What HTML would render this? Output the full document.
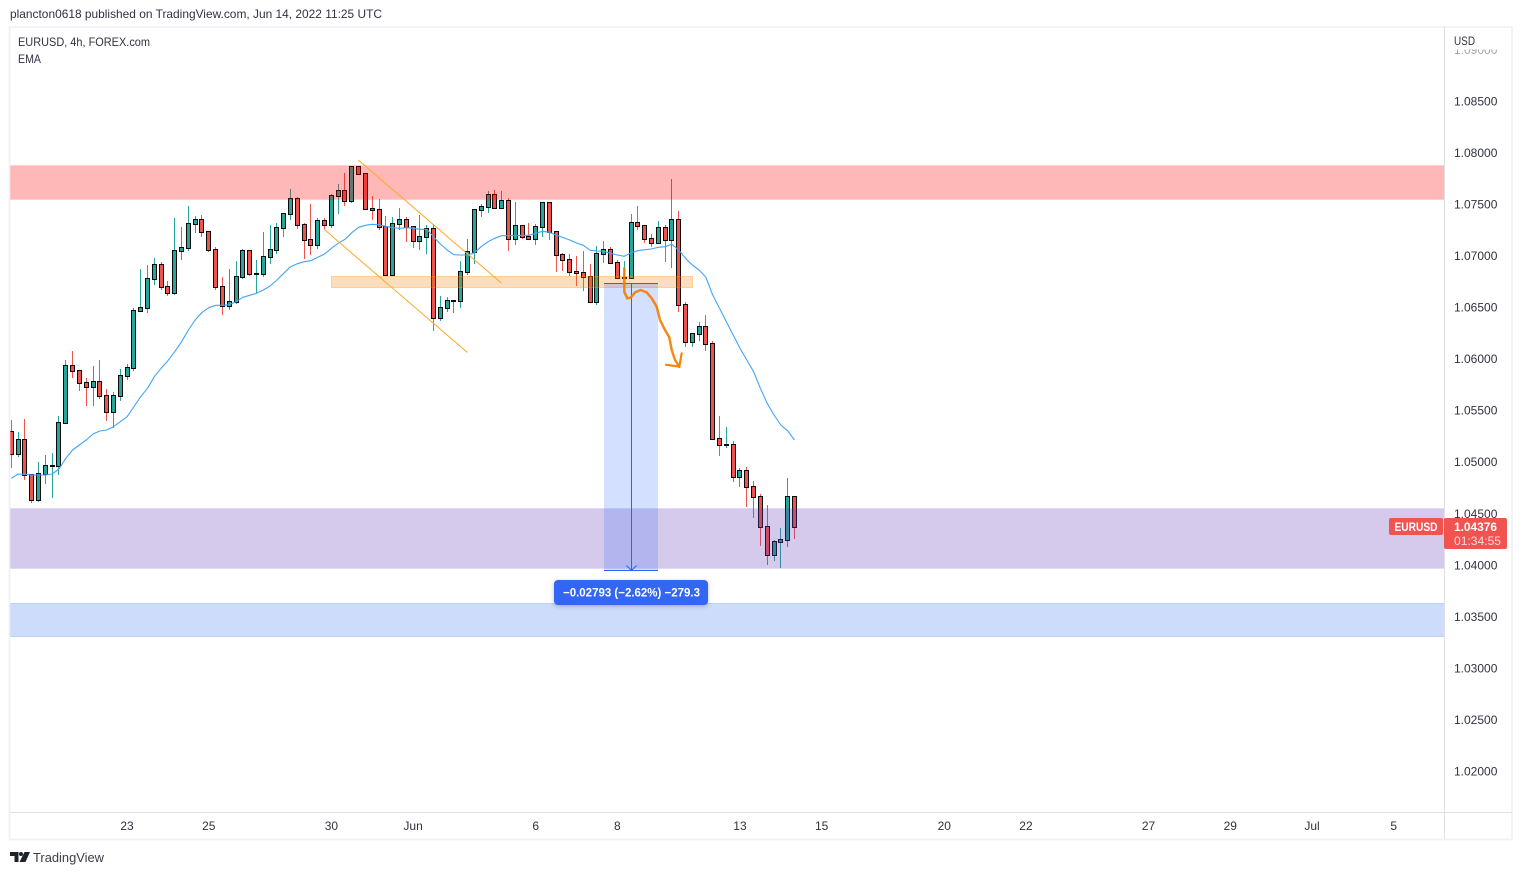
<!DOCTYPE html>
<html lang="en">
<head>
<meta charset="utf-8">
<title>EURUSD 4h chart</title>
<style>
html,body{margin:0;padding:0;background:#fff;width:1522px;height:875px;overflow:hidden}
svg{display:block;font-family:"Liberation Sans",Arial,sans-serif}
text{fill:#2f3241;font-size:12px}
</style>
</head>
<body>
<svg id="chart" xmlns="http://www.w3.org/2000/svg" width="1522" height="875" viewBox="0 0 1522 875">
  <defs>
    <clipPath id="plotClip"><rect x="10" y="28" width="1434" height="784"/></clipPath>
  </defs>
  <rect x="0" y="0" width="1522" height="875" fill="#ffffff"/>
  <text x="10" y="18" style="font-size:12px" textLength="372" lengthAdjust="spacingAndGlyphs">plancton0618 published on TradingView.com, Jun 14, 2022 11:25 UTC</text>
  <g id="priceGrid"></g>
  <rect x="1446" y="29" width="65" height="20.5" fill="#ffffff"/>
  <rect x="1446" y="49.5" width="65" height="7" fill="#ffffff" fill-opacity="0.55"/>
  <g id="candles"></g>
  <path id="ema" fill="none" stroke="#42a5f5" stroke-width="1.1" stroke-linejoin="round"/>
  <g id="drawings"></g>
  <g id="timeAxis"></g>

  <rect x="9.5" y="27" width="1502.5" height="812.5" fill="none" stroke="#eff0f5" stroke-width="1.6"/>
  <line x1="1444.5" y1="27" x2="1444.5" y2="839" stroke="#dfe1e6"/>
  <line x1="10" y1="812.5" x2="1512" y2="812.5" stroke="#dfe1e6"/>

  <text x="18" y="46" textLength="132" lengthAdjust="spacingAndGlyphs">EURUSD, 4h, FOREX.com</text>
  <text x="18" y="63" textLength="23" lengthAdjust="spacingAndGlyphs">EMA</text>
  <text x="1454" y="45" textLength="21" lengthAdjust="spacingAndGlyphs">USD</text>

  <rect x="1389" y="518" width="54" height="17" rx="2" fill="#f05350"/>
  <text x="1416" y="531" text-anchor="middle" style="fill:#fff;font-weight:bold;font-size:11.5px" textLength="43" lengthAdjust="spacingAndGlyphs">EURUSD</text>
  <rect x="1444" y="518" width="63" height="31" rx="2" fill="#f05350"/>
  <text x="1454" y="531" style="fill:#fff;font-weight:bold" textLength="43" lengthAdjust="spacingAndGlyphs">1.04376</text>
  <text x="1454" y="545" style="fill:#fbdcdc" textLength="47" lengthAdjust="spacingAndGlyphs">01:34:55</text>

  <g>
    <polygon points="10,852 18.5,852 18.5,862 14.5,862 14.5,856 10,856" fill="#1e222d"/>
    <circle cx="21" cy="854" r="2" fill="#1e222d"/>
    <polygon points="24.5,852 30,852 25.5,862 19.5,862" fill="#1e222d"/>
    <text x="33" y="862" style="font-size:13px;fill:#3a3d48" textLength="71" lengthAdjust="spacingAndGlyphs">TradingView</text>
  </g>
</svg>
<script>
const opens=[1.05290,1.05077,1.05213,1.04873,1.04630,1.04883,1.04960,1.04963,1.05378,1.05931,1.05882,1.05766,1.05733,1.05775,1.05640,1.05484,1.05640,1.05834,1.05911,1.06464,1.06493,1.06775,1.06910,1.06697,1.06639,1.07046,1.07075,1.07308,1.07347,1.07231,1.07056,1.06697,1.06513,1.06552,1.06794,1.07046,1.06823,1.06826,1.06988,1.07056,1.07269,1.07405,1.07551,1.07299,1.07153,1.07105,1.07337,1.07299,1.07580,1.07628,1.07531,1.07861,1.07793,1.07454,1.07451,1.07279,1.06813,1.07308,1.07347,1.07279,1.07143,1.07182,1.07260,1.06396,1.06493,1.06561,1.06564,1.06843,1.07037,1.07444,1.07473,1.07590,1.07463,1.07531,1.07163,1.07289,1.07182,1.07163,1.07279,1.07512,1.07231,1.07007,1.06959,1.06843,1.06839,1.06794,1.06552,1.07017,1.07056,1.06930,1.06784,1.06790,1.07318,1.07289,1.07163,1.07124,1.07269,1.07153,1.07347,1.06522,1.06163,1.06241,1.06309,1.06144,1.05222,1.05164,1.05170,1.04854,1.04912,1.04757,1.04660,1.04369,1.04097,1.04223,1.04242,1.04660];
const highs=[1.05410,1.05290,1.05419,1.04886,1.04999,1.05070,1.05089,1.05448,1.05992,1.06079,1.05882,1.05814,1.05933,1.05992,1.05710,1.05681,1.05904,1.05953,1.06493,1.06875,1.06913,1.06981,1.06942,1.06758,1.07369,1.07282,1.07486,1.07389,1.07398,1.07240,1.07085,1.06797,1.06875,1.06952,1.07069,1.07059,1.06962,1.07234,1.07301,1.07318,1.07408,1.07651,1.07573,1.07318,1.07505,1.07369,1.07369,1.07602,1.07699,1.07806,1.07861,1.07874,1.07793,1.07583,1.07554,1.07389,1.07379,1.07466,1.07379,1.07292,1.07398,1.07301,1.07311,1.06613,1.06603,1.06574,1.06952,1.07166,1.07457,1.07505,1.07631,1.07641,1.07631,1.07563,1.07525,1.07301,1.07321,1.07311,1.07525,1.07512,1.07243,1.07030,1.07020,1.07001,1.07049,1.06923,1.07098,1.07146,1.07088,1.06962,1.06952,1.07408,1.07486,1.07289,1.07214,1.07340,1.07301,1.07748,1.07437,1.06554,1.06244,1.06360,1.06428,1.06176,1.05448,1.05342,1.05206,1.04944,1.04954,1.04818,1.04692,1.04585,1.04245,1.04362,1.04847,1.04672];
const lows=[1.04947,1.05054,1.04827,1.04607,1.04617,1.04789,1.04656,1.04876,1.05371,1.05817,1.05691,1.05545,1.05545,1.05613,1.05400,1.05332,1.05594,1.05798,1.05888,1.06464,1.06451,1.06719,1.06671,1.06613,1.06622,1.06962,1.07049,1.07224,1.07185,1.07040,1.06671,1.06428,1.06477,1.06532,1.06778,1.06807,1.06639,1.06797,1.06923,1.07020,1.07185,1.07350,1.07263,1.06972,1.07010,1.07069,1.07263,1.07272,1.07408,1.07486,1.07515,1.07787,1.07447,1.07350,1.07253,1.06807,1.06807,1.07253,1.07139,1.07078,1.07059,1.07020,1.06273,1.06370,1.06457,1.06448,1.06496,1.06816,1.06923,1.07379,1.07418,1.07463,1.07466,1.07049,1.07107,1.07166,1.07156,1.07107,1.07185,1.07156,1.06845,1.06855,1.06807,1.06710,1.06661,1.06548,1.06525,1.06933,1.06923,1.06787,1.06787,1.06797,1.07253,1.07127,1.07088,1.07117,1.06942,1.06884,1.06457,1.06118,1.06118,1.06176,1.06079,1.05216,1.05060,1.05138,1.04808,1.04760,1.04565,1.04459,1.04187,1.04003,1.04042,1.03974,1.04177,1.04255];
const closes=[1.05077,1.05213,1.04873,1.04630,1.04883,1.04960,1.04963,1.05378,1.05931,1.05882,1.05766,1.05733,1.05775,1.05640,1.05484,1.05640,1.05834,1.05911,1.06464,1.06493,1.06775,1.06910,1.06697,1.06639,1.07046,1.07075,1.07308,1.07347,1.07231,1.07056,1.06697,1.06513,1.06552,1.06794,1.07046,1.06823,1.06826,1.06988,1.07056,1.07269,1.07405,1.07551,1.07299,1.07153,1.07105,1.07337,1.07299,1.07580,1.07628,1.07531,1.07861,1.07793,1.07454,1.07451,1.07279,1.06813,1.07308,1.07347,1.07279,1.07143,1.07182,1.07260,1.06396,1.06493,1.06561,1.06564,1.06843,1.07037,1.07444,1.07473,1.07590,1.07463,1.07531,1.07163,1.07289,1.07182,1.07163,1.07279,1.07512,1.07231,1.07007,1.06959,1.06843,1.06839,1.06794,1.06552,1.07017,1.07056,1.06930,1.06784,1.06790,1.07318,1.07289,1.07163,1.07124,1.07269,1.07153,1.07347,1.06522,1.06163,1.06241,1.06309,1.06144,1.05222,1.05164,1.05170,1.04854,1.04912,1.04757,1.04660,1.04369,1.04097,1.04223,1.04242,1.04660,1.04376];
const emaValues=[1.04844,1.04886,1.04883,1.04876,1.04876,1.04876,1.04886,1.04934,1.05038,1.05119,1.05167,1.05216,1.05274,1.05303,1.05313,1.05345,1.05393,1.05442,1.05539,1.05636,1.05717,1.05830,1.05911,1.05985,1.06072,1.06169,1.06283,1.06380,1.06454,1.06499,1.06522,1.06522,1.06528,1.06557,1.06600,1.06619,1.06639,1.06671,1.06710,1.06768,1.06833,1.06897,1.06926,1.06945,1.06955,1.06988,1.07020,1.07075,1.07124,1.07163,1.07227,1.07279,1.07299,1.07308,1.07304,1.07289,1.07275,1.07269,1.07275,1.07269,1.07260,1.07260,1.07188,1.07117,1.07059,1.07013,1.07010,1.07010,1.07033,1.07091,1.07139,1.07172,1.07198,1.07198,1.07198,1.07202,1.07202,1.07221,1.07240,1.07231,1.07204,1.07180,1.07156,1.07127,1.07105,1.07056,1.07049,1.07046,1.07027,1.07010,1.06998,1.07033,1.07052,1.07062,1.07069,1.07085,1.07091,1.07114,1.07059,1.06978,1.06913,1.06865,1.06794,1.06622,1.06493,1.06363,1.06234,1.06105,1.05992,1.05878,1.05717,1.05572,1.05458,1.05361,1.05306,1.05216];
const priceTicks=[1.09,1.085,1.08,1.075,1.07,1.065,1.06,1.055,1.05,1.045,1.04,1.035,1.03,1.025,1.02];
const dateBars=[17,29,47,59,77,89,107,119,137,149,167,179,191,203];
const dateLabels=["23","25","30","Jun","6","8","13","15","20","22","27","29","Jul","5"];
const resistanceZone=[1.07874,1.07540];
const supplyDemandZone=[1.04551,1.03969];
const lowerZone=[1.03624,1.03309];
const orangeZone=[1.06797,1.06690];
const orangeZoneBars=[46.95,100.1];
const channelUpperBars=[50.95,72.0];
const channelUpperPrices=[1.07932,1.06736];
const channelLowerBars=[45.92,66.96];
const channelLowerPrices=[1.07260,1.06066];
const measureBars=[87,95];
const measurePrices=[1.06729,1.03949];
const measureText="\u22120.02793 (\u22122.62%) \u2212279.3";
const sketchBars=[90.01,90.01,90.46,90.95,91.59,92.42,93.30,94.04,94.77,95.26,95.99,96.62,96.98,97.46,98.09];
const sketchPrices=[1.06881,1.06654,1.06590,1.06596,1.06648,1.06671,1.06648,1.06590,1.06509,1.06380,1.06283,1.06212,1.06089,1.05992,1.05927];
const sketchHeadBars=[98.44,98.09,96.14];
const sketchHeadPrices=[1.06057,1.05927,1.05946];

const NS="http://www.w3.org/2000/svg";
const xScale=function(bar){return 11.3+bar*6.81;};
const yScale=function(price){return 153+(1.08-price)*10307.7;};
const PLOT_LEFT=10,PLOT_RIGHT=1444;

function make(tag,parent,attrs){
  const el=document.createElementNS(NS,tag);
  for(const k in attrs){el.setAttribute(k,attrs[k]);}
  parent.appendChild(el);
  return el;
}

/* price axis */
const priceGrid=document.getElementById('priceGrid');
priceTicks.forEach(function(p){
  const t=make('text',priceGrid,{x:1454,y:yScale(p)+4});
  
  
  t.textContent=p.toFixed(5);
});

/* time axis */
const timeAxis=document.getElementById('timeAxis');
dateBars.forEach(function(b,i){
  const t=make('text',timeAxis,{x:xScale(b),y:830,'text-anchor':'middle'});
  
  
  t.textContent=dateLabels[i];
});

/* candles */
const candlesG=document.getElementById('candles');
closes.forEach(function(c,i){
  const up=c>=opens[i];
  const col=up?'#26a69a':'#ef5350';
  const px=Math.floor(xScale(i));
  const g=make('g',candlesG,{'shape-rendering':'crispEdges','clip-path':'url(#plotClip)'});
  
  
  const wt=Math.round(yScale(highs[i])),wb=Math.round(yScale(lows[i]));
  const wick=make('rect',g,{x:px,y:wt,width:1,height:Math.max(1,wb-wt),fill:col});
  
  
  const top=Math.round(yScale(Math.max(opens[i],c)));
  const bot=Math.round(yScale(Math.min(opens[i],c)));
  const h=bot-top;
  const outline=make('rect',g,{x:px-2,y:top-1,width:5,height:h+2>2?h+2:2,fill:'#0b0b0b'});
  
  
  if(h>0){
    const body=make('rect',g,{x:px-1,y:top,width:3,height:h,fill:col});
    
    
  }
});

/* EMA */
document.getElementById('ema').setAttribute('d',emaValues.map(function(v,i){
  return (i?'L':'M')+xScale(i).toFixed(1)+' '+yScale(v).toFixed(1);
}).join(' '));

/* drawings */
const dr=document.getElementById('drawings');
function band(prices,name,fill,stroke,x1,x2){
  const y1=Math.round(yScale(prices[0]))-0.5,y2=Math.round(yScale(prices[1]))-0.5;
  const r=make('rect',dr,{x:x1,y:y1,width:x2-x1,height:y2-y1,fill:fill,stroke:stroke,'stroke-width':1,'clip-path':'url(#plotClip)'});
  
  
}
band(resistanceZone,'resistance-zone','rgba(255,0,0,0.28)','rgba(255,0,0,0.06)',PLOT_LEFT-4,PLOT_RIGHT+4);
band(supplyDemandZone,'support-zone','rgba(103,58,183,0.27)','rgba(103,58,183,0.06)',PLOT_LEFT-4,PLOT_RIGHT+4);
band(lowerZone,'lower-support-zone','rgba(25,95,230,0.22)','rgba(25,95,230,0.2)',PLOT_LEFT-4,PLOT_RIGHT+4);
band(orangeZone,'orange-level-zone','rgba(245,124,0,0.25)','rgba(255,152,0,0.35)',Math.round(xScale(orangeZoneBars[0]))+0.5,Math.round(xScale(orangeZoneBars[1]))-0.5);

function channel(bars,prices,name){
  const l=make('line',dr,{x1:xScale(bars[0]),y1:yScale(prices[0]),x2:xScale(bars[1]),y2:yScale(prices[1]),stroke:'#ffa726','stroke-width':1});
  
  
}
channel(channelUpperBars,channelUpperPrices,'channel-upper-line');
channel(channelLowerBars,channelLowerPrices,'channel-lower-line');

/* measure tool */
const mx1=Math.round(xScale(measureBars[0])),mx2=Math.round(xScale(measureBars[1])),mid=Math.floor((mx1+mx2)/2)+0.5;
const my1=Math.round(yScale(measurePrices[0]))-0.5,my2=Math.round(yScale(measurePrices[1]))-0.5;
const mg=make('g',dr,{});


const mFill=make('rect',mg,{x:mx1,y:my1,width:mx2-mx1,height:my2-my1,fill:'rgba(41,98,255,0.2)'});


const mTop=make('line',mg,{x1:mx1,y1:my1,x2:mx2,y2:my1,stroke:'#2962ff','stroke-width':1});


const mBot=make('line',mg,{x1:mx1,y1:my2,x2:mx2,y2:my2,stroke:'#2962ff','stroke-width':1});


const mArrow=make('path',mg,{d:'M'+mid+' '+my1+'L'+mid+' '+my2+'M'+(mid-5)+' '+(my2-5)+'L'+mid+' '+my2+'L'+(mid+5)+' '+(my2-5),fill:'none',stroke:'#2962ff','stroke-width':1});



/* freehand sketch */
function poly(bars,prices){
  return bars.map(function(b,i){return (i?'L':'M')+xScale(b).toFixed(1)+' '+yScale(prices[i]).toFixed(1);}).join(' ');
}
const sk=make('path',dr,{d:poly(sketchBars,sketchPrices),fill:'none',stroke:'rgba(245,124,0,0.9)','stroke-width':2.5,'stroke-linejoin':'round','stroke-linecap':'round'});


const skh=make('path',dr,{d:poly(sketchHeadBars,sketchHeadPrices),fill:'none',stroke:'rgba(245,124,0,0.95)','stroke-width':2.2,'stroke-linejoin':'round','stroke-linecap':'round'});



/* measure label, anchored below the range */
const lblW=154,lblY=my2+9.5;
const lbl=make('rect',dr,{x:mid-0.5-lblW/2,y:lblY,width:lblW,height:25,rx:4,fill:'#3366f5',style:'filter:drop-shadow(0 1px 2px rgba(0,0,0,0.25))'});


const lblT=make('text',dr,{x:mid,y:lblY+16.5,'text-anchor':'middle',style:'fill:#fff;font-size:12px;font-weight:bold',textLength:137,lengthAdjust:'spacingAndGlyphs'});


lblT.textContent=measureText;
</script>
</body>
</html>
